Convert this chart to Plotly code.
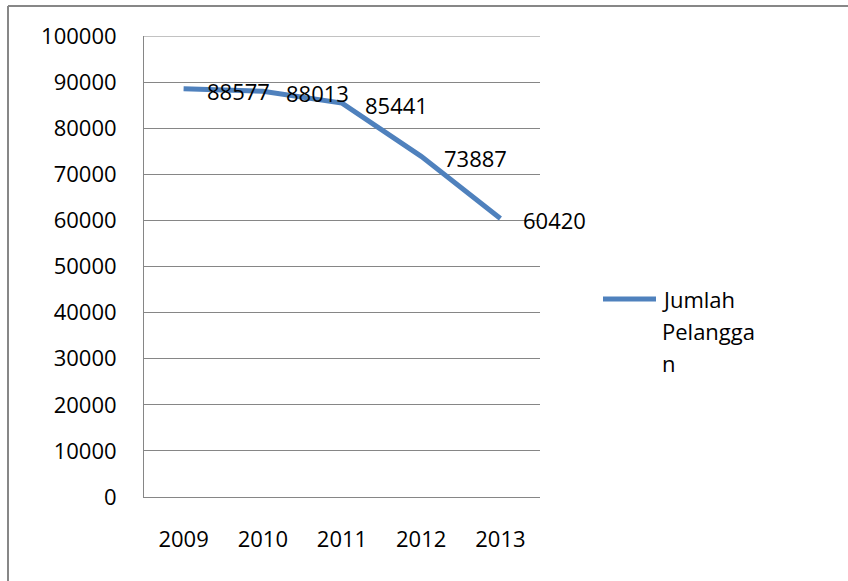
import plotly.graph_objects as go

years = ["2009", "2010", "2011", "2012", "2013"]
jumlah_pelanggan = [88577, 88013, 85441, 73887, 60420]
series_lines = ["Jumlah", "Pelangga", "n"]
y_ticks = [0, 10000, 20000, 30000, 40000, 50000, 60000, 70000, 80000, 90000, 100000]

FONT = "Open Sans"
GRID = "#868686"
BLUE = "#4F81BD"

L, R, T, B = 144, 540, 36, 497
def px_x(p):
    return (p - L) / (R - L)
def px_y(p):
    return (B - p) / (B - T)

fig = go.Figure()
fig.add_trace(go.Scatter(
    x=years, y=jumlah_pelanggan, mode="lines", name=" ".join(series_lines),
    line=dict(color=BLUE, width=5), showlegend=False,
))

for i, v in enumerate(jumlah_pelanggan):
    fig.add_annotation(x=i, y=v, text=str(v), showarrow=False,
                       xanchor="left", yanchor="middle", xshift=21, yshift=-2,
                       font=dict(family=FONT, size=22, color="#000000"))

# top gridline (plotly hides the gridline at the range edge)
fig.add_shape(type="line", xref="paper", yref="y", x0=0, x1=1,
              y0=y_ticks[-1], y1=y_ticks[-1], line=dict(color=GRID, width=1),
              layer="below")

# legend (drawn manually to match the original's long key line and wrapping)
fig.add_shape(type="line", xref="paper", yref="paper",
              x0=px_x(603), x1=px_x(656), y0=px_y(299), y1=px_y(299),
              line=dict(color=BLUE, width=5))
for k, (txt, yc) in enumerate(zip(series_lines, [299, 331, 363])):
    fig.add_annotation(xref="paper", yref="paper", x=px_x(660), y=px_y(yc),
                       text=txt, showarrow=False, xanchor="left", yanchor="middle",
                       font=dict(family=FONT, size=22, color="#000000"))

# outer chart border (top and left edges visible)
fig.add_shape(type="line", xref="paper", yref="paper",
              x0=px_x(8), x1=px_x(900), y0=px_y(6), y1=px_y(6),
              line=dict(color="#878787", width=2))
fig.add_shape(type="line", xref="paper", yref="paper",
              x0=px_x(8), x1=px_x(8), y0=px_y(6), y1=px_y(640),
              line=dict(color="#878787", width=2))

fig.update_layout(
    width=848, height=581,
    margin=dict(l=L, r=848 - R, t=T, b=581 - B),
    paper_bgcolor="white", plot_bgcolor="white",
    font=dict(family=FONT, size=22, color="#000000"),
    showlegend=False,
    xaxis=dict(type="category", range=[-0.5, 4.5], showgrid=False,
               showline=True, linecolor=GRID, linewidth=1, ticks="",
               ticklabelstandoff=23, zeroline=False, fixedrange=True),
    yaxis=dict(range=[0, 100000], tickvals=y_ticks,
               ticktext=[str(t) for t in y_ticks],
               showgrid=True, gridcolor=GRID, gridwidth=1,
               showline=True, linecolor=GRID, linewidth=1, ticks="",
               ticklabelstandoff=22, zeroline=False),
)

fig.write_html("out.html")
